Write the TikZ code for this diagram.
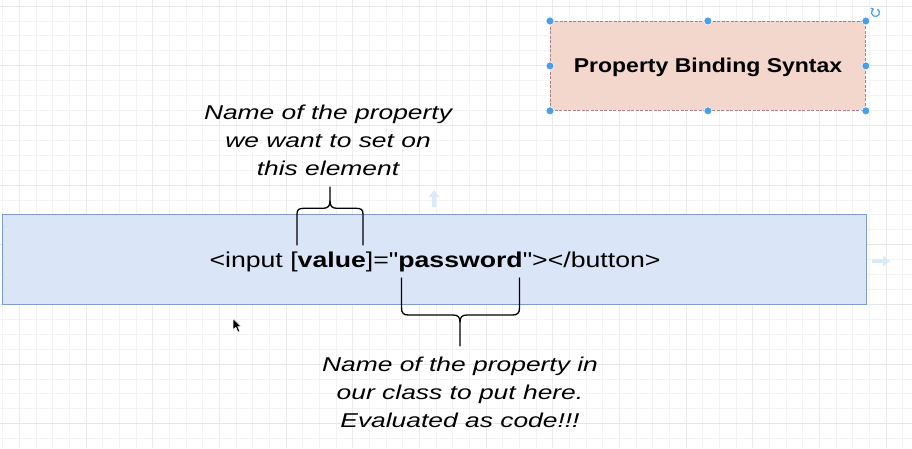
\documentclass[tikz,border=0pt]{standalone}
\usepackage{fontspec}
\usetikzlibrary{arrows.meta}
\setmainfont{Liberation Sans}
\newfontfamily\mainf[FakeStretch=1.24]{Liberation Sans}
\newfontfamily\annf[FakeStretch=1.32]{Liberation Sans}
\newfontfamily\titlef[FakeStretch=1.15]{Liberation Sans}
\definecolor{gridminor}{HTML}{F3F3F3}
\definecolor{gridmajor}{HTML}{E6E6E6}
\definecolor{pinkfill}{HTML}{F3D6CC}
\definecolor{pinkline}{HTML}{A87F88}
\definecolor{bluefill}{HTML}{DAE6F8}
\definecolor{blueline}{HTML}{7D9BCB}
\definecolor{handle}{HTML}{4A9FE8}
\definecolor{ghost}{HTML}{D9EAF9}
\tikzset{
  bracepath/.style={draw=black,line width=1.3pt,line join=round,line cap=round},
  handledot/.style={circle,fill=handle,draw=white,line width=0.6pt,minimum size=8pt,inner sep=0pt},
  anntext/.style={font=\annf\itshape\fontsize{20}{28}\selectfont,align=center,inner sep=0pt,anchor=base},
}
\begin{document}
\begin{tikzpicture}[x=1pt,y=-1pt]
\useasboundingbox (0,0) rectangle (912,448);
\fill[white] (0,0) rectangle (912,448);
% grid
\foreach \i in {0,...,55} {
  \draw[gridminor,line width=0.8pt] ({2.63+16.667*\i},0) -- ({2.63+16.667*\i},448);
}
\foreach \j in {0,...,30} {
  \draw[gridminor,line width=0.8pt] (0,{6+14.917*\j}) -- (912,{6+14.917*\j});
}
\foreach \j in {0,...,7} {
  \draw[gridmajor,line width=1pt] (0,{6+59.667*\j}) -- (912,{6+59.667*\j});
}
\foreach \i in {0,...,13} {
  \draw[gridmajor!70!gridminor,line width=0.9pt] ({19.33+66.667*\i},0) -- ({19.33+66.667*\i},448);
}
% title box
\node[draw=pinkline,dashed,dash pattern=on 3pt off 1.5pt,fill=pinkfill,line width=0.8pt,
      minimum width=315pt,minimum height=89pt,anchor=north west,inner sep=0pt] (title) at (550,21) {};
\node[anchor=base,inner sep=0pt,font=\titlef\bfseries\fontsize{20}{24}\selectfont] (titletext) at (708,72.5) {Property Binding Syntax};
% handles
\foreach \p/\n in {north west/a,north/b,north east/c,west/d,east/e,south west/f,south/g,south east/h} {
  \node[handledot] (h\n) at (title.\p) {};
}
% rotation icon
\draw[handle,line width=1.2pt,-{Straight Barb[length=2pt,width=3.5pt]}] (877.5,9) arc[start angle=60,end angle=-250,radius=4pt];
% ghost arrows
\fill[ghost] (432,207) -- (432,197) -- (428.5,197) -- (434,190) -- (439.5,197) -- (436,197) -- (436,207) -- cycle;
\fill[ghost] (872,259) -- (883,259) -- (883,255.5) -- (890,261) -- (883,266.5) -- (883,263) -- (872,263) -- cycle;
% main box
\node[draw=blueline,fill=bluefill,line width=1.2pt,minimum width=864pt,minimum height=90pt,
      anchor=north west,inner sep=0pt] (code) at (2,214) {};
\node[anchor=base,inner sep=0pt,font=\mainf\fontsize{21.5}{26}\selectfont] (codetext) at (435,267)
  {<input [\textbf{value}]="\textbf{password}"></button>};
% annotations (base anchor = last line baseline)
\node[anntext] (topnote) at (328,175) {Name of the property\\we want to set on\\this element};
\node[anntext] (botnote) at (460,427.3) {Name of the property in\\our class to put here.\\Evaluated as code!!!};
% top brace
\coordinate (tb) at (330,187);
\draw[bracepath] (297,245) -- (297,214) .. controls (297,209.5) and (299,208.3) .. (304,208.3) -- (323,208.3)
  .. controls (328,208.3) and (330,206) .. (330,201) -- (tb);
\draw[bracepath] (363,245) -- (363,214) .. controls (363,209.5) and (361,208.3) .. (356,208.3) -- (337,208.3)
  .. controls (332,208.3) and (330,206) .. (330,201);
% bottom brace
\coordinate (bb) at (460,346);
\draw[bracepath] (401.5,278) -- (401.5,308) .. controls (401.5,313) and (403.5,315) .. (408.5,315) -- (453,315)
  .. controls (458,315) and (460,317) .. (460,322) -- (bb);
\draw[bracepath] (519.5,278) -- (519.5,308) .. controls (519.5,313) and (517.5,315) .. (512.5,315) -- (467,315)
  .. controls (462,315) and (460,317) .. (460,322);
% cursor
\filldraw[fill=black,draw=white,line width=0.5pt,line join=round]
  (233,318.5) -- (233,330) -- (235.8,327.3) -- (238,332) -- (239.8,331.2) -- (237.7,326.7) -- (241.3,326.7) -- cycle;
\end{tikzpicture}
\end{document}
